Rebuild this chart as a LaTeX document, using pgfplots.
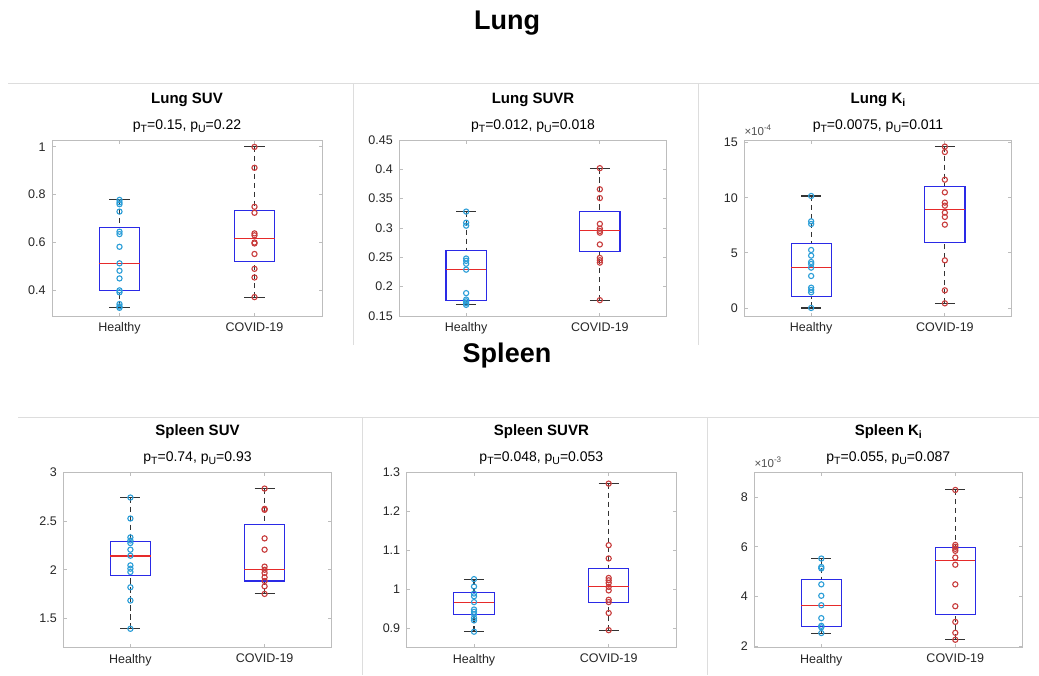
\documentclass[border=0pt]{standalone}
\usepackage{pgfplots}
\pgfplotsset{compat=1.18}
\usepgfplotslibrary{statistics}
\usepackage{fontspec}
\setmainfont{Liberation Sans}
\definecolor{hcol}{HTML}{2B9ED8}
\definecolor{ccol}{HTML}{C83C3C}
\definecolor{boxblue}{HTML}{2A2AE6}
\definecolor{medred}{HTML}{E62A2A}
\definecolor{sepgray}{HTML}{DDDDDD}
\definecolor{axgray}{HTML}{BDBDBD}
\definecolor{txt}{HTML}{262626}
\newcommand{\sub}[1]{\raisebox{-0.4ex}{\fontsize{10.5}{10.5}\selectfont #1}}
\newcommand{\ptitle}[2]{%
  \node[anchor=base, font=\bfseries\fontsize{15}{18}\selectfont, text=black, yshift=36.5pt] at (rel axis cs:0.5,1) {#1};
  \node[anchor=base, font=\fontsize{14}{17}\selectfont, text=black, yshift=10.8pt] at (rel axis cs:0.5,1) {#2};}
\pgfplotsset{
  panel/.style={
    scale only axis, anchor=north west,
    xmin=0.5, xmax=2.5, xtick={1,2}, xticklabels={Healthy,COVID-19},
    axis line style={axgray, line width=0.8pt},
    tick style={axgray, line width=0.8pt}, tick align=inside, major tick length=3.5pt,
    tick pos=both,
    ticklabel style={font=\fontsize{12.5}{15}\selectfont, text=txt},
    yticklabel style={xshift=-3pt},
    xticklabel style={yshift=-3pt},
    /pgf/number format/assume math mode=true,
    clip=false,
    boxplot/draw direction=y,
    boxplot/every box/.style={draw=boxblue, line width=1.2pt},
    boxplot/every median/.style={draw=medred, line width=1.1pt},
    boxplot/box extend=0.3, boxplot/whisker extend=0.15,
    boxplot/draw/lower whisker/.code={%
      \draw[black!80, line width=1.1pt, dash pattern=on 5.5pt off 3.5pt]
        (boxplot cs:\pgfplotsboxplotvalue{lower whisker}) -- (boxplot cs:\pgfplotsboxplotvalue{lower quartile});
      \draw[black!80, line width=1.1pt]
        (boxplot whisker cs:\pgfplotsboxplotvalue{lower whisker},0) -- (boxplot whisker cs:\pgfplotsboxplotvalue{lower whisker},1);
    },
    boxplot/draw/upper whisker/.code={%
      \draw[black!80, line width=1.1pt, dash pattern=on 5.5pt off 3.5pt]
        (boxplot cs:\pgfplotsboxplotvalue{upper whisker}) -- (boxplot cs:\pgfplotsboxplotvalue{upper quartile});
      \draw[black!80, line width=1.1pt]
        (boxplot whisker cs:\pgfplotsboxplotvalue{upper whisker},0) -- (boxplot whisker cs:\pgfplotsboxplotvalue{upper whisker},1);
    },
  },
  hpts/.style={only marks, mark=o, mark size=2.6pt, mark options={draw=hcol, line width=1.1pt}},
  cpts/.style={only marks, mark=o, mark size=2.6pt, mark options={draw=ccol, line width=1.1pt}},
}
\begin{document}
\begin{tikzpicture}[x=1pt,y=1pt]
\useasboundingbox (0,0) rectangle (1039,-675);
\fill[white] (0,0) rectangle (1039,-675);
% separators
\draw[sepgray, line width=0.8pt] (8,-83.3) -- (1039,-83.3);
\draw[sepgray, line width=0.8pt] (353.3,-83.3) -- (353.3,-344.7);
\draw[sepgray, line width=0.8pt] (698.7,-83.3) -- (698.7,-344.7);
\draw[sepgray, line width=0.8pt] (18,-417.3) -- (1039,-417.3);
\draw[sepgray, line width=0.8pt] (362.3,-417.3) -- (362.3,-675);
\draw[sepgray, line width=0.8pt] (707.3,-417.3) -- (707.3,-675);
\node[anchor=base, font=\bfseries\fontsize{27}{30}\selectfont] at (507,-29.3) {Lung};
\node[anchor=base, font=\bfseries\fontsize{27}{30}\selectfont] at (507,-362) {Spleen};

% ---------- Lung SUV
\begin{axis}[panel, at={(52pt,-140pt)}, width=270pt, height=176pt,
  ymin=0.293, ymax=1.028, ytick={0.4,0.6,0.8,1}, yticklabels={0.4,0.6,0.8,1}]
\addplot[hpts] coordinates {(1,0.778)(1,0.768)(1,0.760)(1,0.729)(1,0.645)(1,0.635)(1,0.582)(1,0.513)(1,0.482)(1,0.450)(1,0.400)(1,0.392)(1,0.343)(1,0.333)(1,0.327)};
\addplot[cpts] coordinates {(2,0.999)(2,0.912)(2,0.749)(2,0.724)(2,0.638)(2,0.630)(2,0.600)(2,0.596)(2,0.552)(2,0.490)(2,0.454)(2,0.372)};
\addplot[boxplot prepared={draw position=1, lower whisker=0.327, lower quartile=0.400, median=0.512, upper quartile=0.663, upper whisker=0.778}] coordinates {};
\addplot[boxplot prepared={draw position=2, lower whisker=0.372, lower quartile=0.520, median=0.616, upper quartile=0.734, upper whisker=0.999}] coordinates {};
\ptitle{Lung SUV}{p\sub{T}=0.15, p\sub{U}=0.22}
\end{axis}

% ---------- Lung SUVR
\begin{axis}[panel, at={(399.3pt,-140pt)}, width=267.4pt, height=176pt,
  ymin=0.15, ymax=0.45, ytick={0.15,0.2,0.25,0.3,0.35,0.4,0.45}, yticklabels={0.15,0.2,0.25,0.3,0.35,0.4,0.45}]
\addplot[hpts] coordinates {(1,0.328)(1,0.309)(1,0.304)(1,0.248)(1,0.244)(1,0.239)(1,0.229)(1,0.189)(1,0.178)(1,0.175)(1,0.172)(1,0.169)};
\addplot[cpts] coordinates {(2,0.402)(2,0.366)(2,0.351)(2,0.307)(2,0.299)(2,0.295)(2,0.292)(2,0.272)(2,0.249)(2,0.245)(2,0.241)(2,0.177)};
\addplot[boxplot prepared={draw position=1, lower whisker=0.170, lower quartile=0.177, median=0.230, upper quartile=0.261, upper whisker=0.328}] coordinates {};
\addplot[boxplot prepared={draw position=2, lower whisker=0.177, lower quartile=0.260, median=0.295, upper quartile=0.328, upper whisker=0.402}] coordinates {};
\ptitle{Lung SUVR}{p\sub{T}=0.012, p\sub{U}=0.018}
\end{axis}

% ---------- Lung Ki
\begin{axis}[panel, at={(744.3pt,-140pt)}, width=267.4pt, height=176pt,
  ymin=-0.73, ymax=15.24, ytick={0,5,10,15}, yticklabels={0,5,10,15}]
\addplot[hpts] coordinates {(1,10.16)(1,7.86)(1,7.62)(1,5.26)(1,4.75)(1,4.17)(1,3.99)(1,3.66)(1,2.90)(1,1.84)(1,1.63)(1,1.42)(1,0.0)};
\addplot[cpts] coordinates {(2,14.64)(2,14.15)(2,11.64)(2,10.49)(2,9.56)(2,9.28)(2,8.65)(2,8.26)(2,7.56)(2,4.32)(2,1.60)(2,0.42)};
\addplot[boxplot prepared={draw position=1, lower whisker=0.0, lower quartile=1.06, median=3.66, upper quartile=5.87, upper whisker=10.16}] coordinates {};
\addplot[boxplot prepared={draw position=2, lower whisker=0.42, lower quartile=5.93, median=8.92, upper quartile=11.04, upper whisker=14.64}] coordinates {};
\ptitle{Lung K\sub{i}}{p\sub{T}=0.0075, p\sub{U}=0.011}
\node[anchor=base west, font=\fontsize{11.5}{13}\selectfont, text=txt!80, inner sep=0pt, yshift=5pt] at (rel axis cs:0,1) {×10\textsuperscript{-4}};
\end{axis}

% ---------- Spleen SUV
\begin{axis}[panel, at={(63.3pt,-472.3pt)}, width=268.4pt, height=175.4pt,
  ymin=1.2, ymax=3, ytick={1.5,2,2.5,3}, yticklabels={1.5,2,2.5,3}]
\addplot[hpts] coordinates {(1,2.741)(1,2.526)(1,2.332)(1,2.300)(1,2.274)(1,2.206)(1,2.144)(1,2.045)(1,2.011)(1,1.977)(1,1.820)(1,1.684)(1,1.394)};
\addplot[cpts] coordinates {(2,2.833)(2,2.625)(2,2.615)(2,2.322)(2,2.206)(2,2.032)(2,2.000)(2,1.967)(2,1.923)(2,1.885)(2,1.830)(2,1.752)};
\addplot[boxplot prepared={draw position=1, lower whisker=1.394, lower quartile=1.940, median=2.141, upper quartile=2.291, upper whisker=2.741}] coordinates {};
\addplot[boxplot prepared={draw position=2, lower whisker=1.752, lower quartile=1.885, median=2.001, upper quartile=2.465, upper whisker=2.833}] coordinates {};
\ptitle{Spleen SUV}{p\sub{T}=0.74, p\sub{U}=0.93}
\end{axis}

% ---------- Spleen SUVR
\begin{axis}[panel, at={(406.7pt,-472.3pt)}, width=269.3pt, height=175.4pt,
  ymin=0.85, ymax=1.3, ytick={0.9,1,1.1,1.2,1.3}, yticklabels={0.9,1,1.1,1.2,1.3}]
\addplot[hpts] coordinates {(1,1.026)(1,1.007)(1,0.989)(1,0.982)(1,0.967)(1,0.948)(1,0.942)(1,0.936)(1,0.926)(1,0.920)(1,0.891)};
\addplot[cpts] coordinates {(2,1.271)(2,1.113)(2,1.079)(2,1.029)(2,1.023)(2,1.016)(2,1.006)(2,0.997)(2,0.973)(2,0.967)(2,0.939)(2,0.895)};
\addplot[boxplot prepared={draw position=1, lower whisker=0.891, lower quartile=0.936, median=0.965, upper quartile=0.991, upper whisker=1.026}] coordinates {};
\addplot[boxplot prepared={draw position=2, lower whisker=0.895, lower quartile=0.967, median=1.007, upper quartile=1.054, upper whisker=1.271}] coordinates {};
\ptitle{Spleen SUVR}{p\sub{T}=0.048, p\sub{U}=0.053}
\end{axis}

% ---------- Spleen Ki
\begin{axis}[panel, at={(754.3pt,-472.3pt)}, width=268pt, height=175.4pt,
  ymin=1.94, ymax=9, ytick={2,4,6,8}, yticklabels={2,4,6,8}]
\addplot[hpts] coordinates {(1,5.53)(1,5.19)(1,5.13)(1,4.49)(1,4.03)(1,3.65)(1,3.13)(1,2.82)(1,2.76)(1,2.53)};
\addplot[cpts] coordinates {(2,8.29)(2,6.08)(2,6.00)(2,5.92)(2,5.84)(2,5.57)(2,5.28)(2,4.49)(2,3.61)(2,2.98)(2,2.54)(2,2.26)};
\addplot[boxplot prepared={draw position=1, lower whisker=2.53, lower quartile=2.78, median=3.65, upper quartile=4.67, upper whisker=5.53}] coordinates {};
\addplot[boxplot prepared={draw position=2, lower whisker=2.26, lower quartile=3.29, median=5.45, upper quartile=5.96, upper whisker=8.29}] coordinates {};
\ptitle{Spleen K\sub{i}}{p\sub{T}=0.055, p\sub{U}=0.087}
\node[anchor=base west, font=\fontsize{11.5}{13}\selectfont, text=txt!80, inner sep=0pt, yshift=5pt] at (rel axis cs:0,1) {×10\textsuperscript{-3}};
\end{axis}
\end{tikzpicture}
\end{document}
